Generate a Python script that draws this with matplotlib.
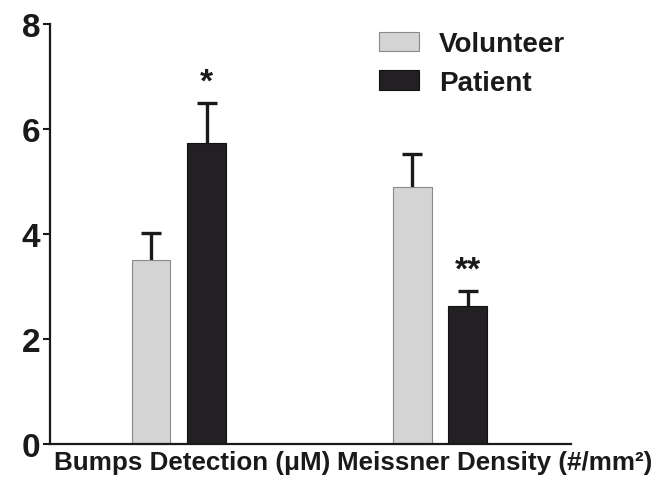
import matplotlib
matplotlib.use("Agg")
import matplotlib.pyplot as plt
import numpy as np
from matplotlib.transforms import ScaledTranslation

plt.rcParams['font.family'] = ['Liberation Sans', 'DejaVu Sans']

# data
groups = ['Bumps Detection (\u03bcM)', 'Meissner Density (#/mm\u00b2)']
volunteer = [3.50, 4.90]
volunteer_err = [0.52, 0.62]
patient = [5.73, 2.63]
patient_err = [0.77, 0.28]
stars = ['*', '**']

fig = plt.figure(figsize=(6.59, 4.85), dpi=100)
ax = fig.add_axes([0.0759, 0.0825, 0.7906, 0.8655])

x = np.arange(len(groups))
w = 0.149
off = 0.107

ax.bar(x - off, volunteer, w, color='#d4d4d4', edgecolor='#8a8a8a', linewidth=0.8,
       label='Volunteer', zorder=2)
ax.bar(x + off, patient, w, color='#222022', edgecolor='#111111', linewidth=0.8,
       label='Patient', zorder=2)

for xs, vals, errs in [(x - off, volunteer, volunteer_err), (x + off, patient, patient_err)]:
    eb = ax.errorbar(xs, vals, yerr=[np.zeros(len(x)), errs], fmt='none',
                     ecolor='#1a1a1a', elinewidth=2.4, capsize=7, capthick=2.4, zorder=1)
    eb[1][0].set_visible(False)  # no cap at the bar top

# significance marks
for xi, p, e, s in zip(x + off, patient, patient_err, stars):
    ax.text(xi, p + e + 0.1, s, ha='center', va='bottom', fontsize=24,
            fontweight='bold', color='#1a1a1a')

ax.set_xlim(-0.494, 1.502)
ax.set_ylim(0, 8)
ax.set_yticks([0, 2, 4, 6, 8])
ax.set_xticks(x)
ax.set_xticklabels(groups, fontsize=18.7, fontweight='bold', color='#1a1a1a')
ax.tick_params(axis='x', length=0, pad=4)
ax.tick_params(axis='y', length=5, width=1.5, labelsize=24, pad=2, colors='#1a1a1a')
for t in ax.get_yticklabels():
    t.set_fontweight('bold')

# shift the category labels like in the reference
for lbl, dx in zip(ax.get_xticklabels(), [13, 55]):
    lbl.set_transform(lbl.get_transform() + ScaledTranslation(dx / 100, 0, fig.dpi_scale_trans))

for side in ['top', 'right']:
    ax.spines[side].set_visible(False)
for side in ['left', 'bottom']:
    ax.spines[side].set_linewidth(1.6)
    ax.spines[side].set_color('#1a1a1a')

leg = ax.legend(loc='upper left', bbox_to_anchor=(0.61, 1.01), frameon=False,
                prop={'weight': 'bold', 'size': 20}, handlelength=1.45, handleheight=0.72,
                labelspacing=0.45, handletextpad=0.72, borderaxespad=0)
for t in leg.get_texts():
    t.set_color('#1a1a1a')

fig.savefig('out.png', dpi=100)
